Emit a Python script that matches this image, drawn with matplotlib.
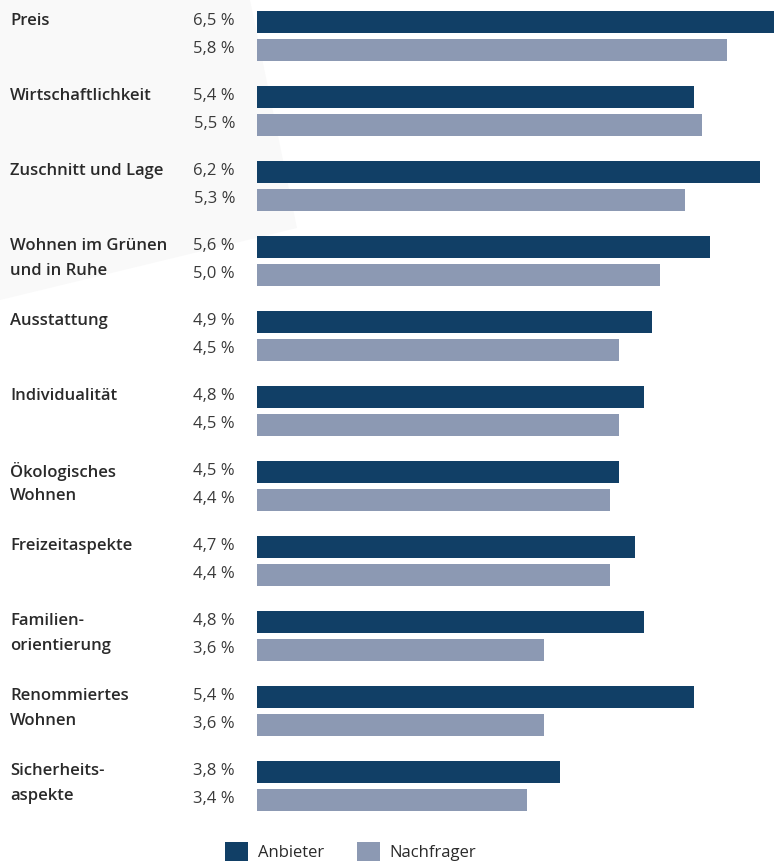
import matplotlib
matplotlib.use("Agg")
import matplotlib.pyplot as plt
from matplotlib.patches import Polygon
from matplotlib.transforms import blended_transform_factory

categories = ["Preis", "Wirtschaftlichkeit", "Zuschnitt und Lage", "Wohnen im Grünen\nund in Ruhe",
              "Ausstattung", "Individualität", "Ökologisches\nWohnen", "Freizeitaspekte",
              "Familien-\norientierung", "Renommiertes\nWohnen", "Sicherheits-\naspekte"]
anbieter = [6.5, 5.4, 6.2, 5.6, 4.9, 4.8, 4.5, 4.7, 4.8, 5.4, 3.8]
nachfrager = [5.8, 5.5, 5.3, 5.0, 4.5, 4.5, 4.4, 4.4, 3.6, 3.6, 3.4]
series_names = ["Anbieter", "Nachfrager"]
colors = ["#113f66", "#8c99b3"]

W, H = 774, 863
fig = plt.figure(figsize=(W / 100, H / 100), dpi=100)
fig.patch.set_facecolor("white")

# faint background shape
poly_px = [(0, 0), (250, 0), (297, 228), (0, 300)]
fig.patches.append(Polygon([(x / W, 1 - y / H) for x, y in poly_px], closed=True,
                           transform=fig.transFigure, facecolor="#f9f9f9", edgecolor="none", zorder=-5))

ax_left = 257
ax = fig.add_axes([ax_left / W, 0, 1 - ax_left / W, 1])
ax.set_zorder(1)
ax.patch.set_visible(False)
ax.set_ylim(H, 0)
# bars start at pixel 243.7 for value 0; 83.3 px per unit
ppu = 83.3
x0 = (ax_left - 243.7) / ppu
ax.set_xlim(x0, x0 + (W - ax_left) / ppu)
ax.axis("off")

pitch, gap, bh = 75, 28, 22
y_a = [22 + pitch * i for i in range(len(categories))]
y_n = [y + gap for y in y_a]
ax.barh(y_a, anbieter, height=bh, color=colors[0], label=series_names[0], zorder=2)
ax.barh(y_n, nachfrager, height=bh, color=colors[1], label=series_names[1], zorder=2)

tr = blended_transform_factory(fig.transFigure, ax.transData)
fs = 12
lab_font = dict(family=["Open Sans", "DejaVu Sans"], fontsize=fs, color="#2a2a2a", fontweight="semibold")
val_font = dict(family=["Open Sans", "DejaVu Sans"], fontsize=fs, color="#3a3a3a")

def fmt(v):
    return f"{v:.1f}".replace(".", ",") + " %"

for i, cat in enumerate(categories):
    for k, line in enumerate(cat.split("\n")):
        ax.text(10 / W, y_a[i] - 1 + 25 * k, line, transform=tr, ha="left", va="center", **lab_font)
    ax.text(235 / W, y_a[i] - 1, fmt(anbieter[i]), transform=tr, ha="right", va="center", **val_font)
    ax.text(235 / W, y_n[i] - 1, fmt(nachfrager[i]), transform=tr, ha="right", va="center", **val_font)

handles, labels = ax.get_legend_handles_labels()
leg = fig.legend(handles, labels, loc="upper left", bbox_to_anchor=(225 / W, 1 - 842 / H),
                 ncol=2, frameon=False, borderpad=0, borderaxespad=0,
                 handlelength=1.38, handleheight=1.4, handletextpad=0.6, columnspacing=1.95,
                 prop=dict(family="Open Sans", size=fs))
for t in leg.get_texts():
    t.set_color("#2a2a2a")

fig.savefig("out.png", dpi=100, facecolor="white")
